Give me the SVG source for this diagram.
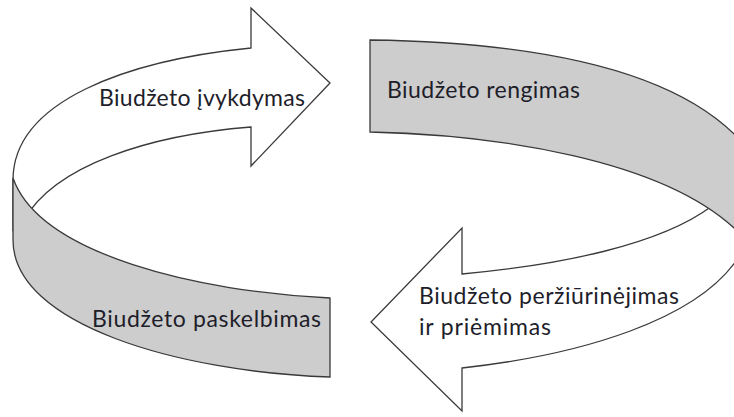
<svg xmlns="http://www.w3.org/2000/svg" width="734" height="417" viewBox="0 0 734 417">
<style>
.front{fill:#ffffff;stroke:#3a3a3a;stroke-width:1.3;stroke-linejoin:miter}
.back{fill:#cdcdcd;stroke:#3a3a3a;stroke-width:1.3;stroke-linejoin:miter}
.lbl{font-family:Lato,"Liberation Sans",sans-serif;font-size:23px;fill:#1e1e2a}
</style>
<rect width="734" height="417" fill="#ffffff"/>
<g id="node-ivykdymas">
<path class="front" d="M251,48 L251,8 L330,83 L251,166 L251,127 C150,135 55,165 24,220 L13,230 L13,180 C13,100 130,60 251,48 Z"/>
<text class="lbl" x="99" y="106" textLength="206">Biudžeto įvykdymas</text>
</g>
<g id="node-perziurinejimas">
<path class="front" d="M462,274 L462,228 L371,322 L462,411 L462,368 C580,355 700,320 740,255 L770,250 L770,170 L740,185 L712,206 C660,245 560,265 462,274 Z"/>
<text class="lbl" x="419" y="304" textLength="260">Biudžeto peržiūrinėjimas</text>
<text class="lbl" x="419" y="335" textLength="132">ir priėmimas</text>
</g>
<g id="node-paskelbimas">
<path class="back" d="M13,178 L13,240 C13,325 180,372 330,377 L330,298 C200,292 40,255 13,178 Z"/>
<text class="lbl" x="92" y="327" textLength="229">Biudžeto paskelbimas</text>
</g>
<g id="node-rengimas">
<path class="back" d="M370,40 C520,42 670,65 740,140 L780,140 L780,260 L734,228 C660,160 500,135 370,132 Z"/>
<text class="lbl" x="387" y="98" textLength="193">Biudžeto rengimas</text>
</g>
<g id="connectors"/>
</svg>
